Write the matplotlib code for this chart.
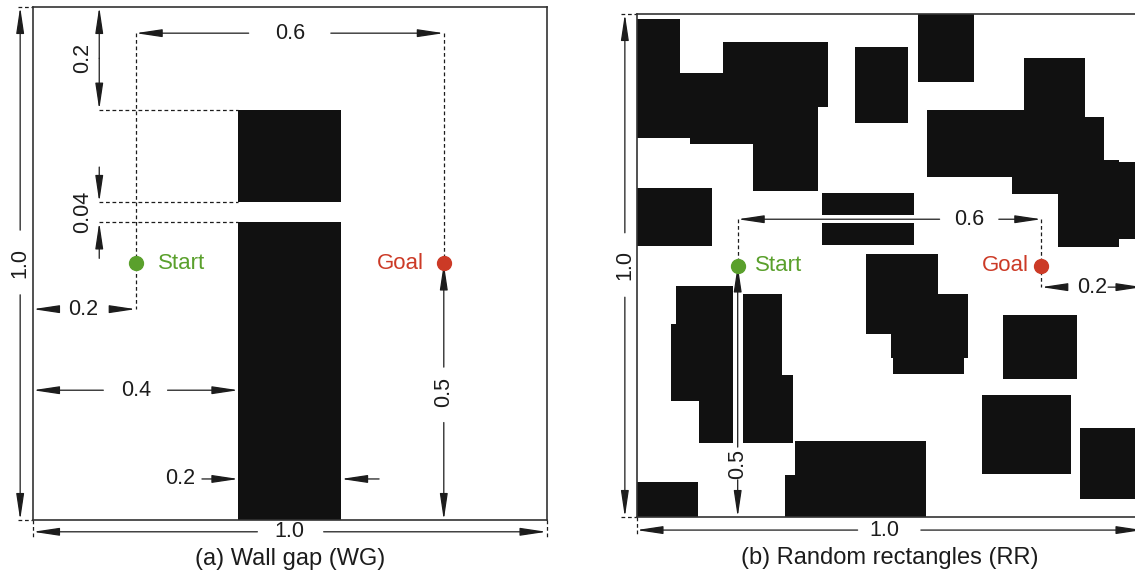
import matplotlib
matplotlib.use("Agg")
import matplotlib.pyplot as plt
from matplotlib.patches import Rectangle

plt.rcParams['font.family'] = ['Liberation Sans', 'DejaVu Sans']

# ---------------- data ----------------
# Wall gap environment: (x, y, width, height) of the two wall pieces
wall_lower = (0.4, 0.0, 0.2, 0.58)
wall_upper = (0.4, 0.62, 0.2, 0.18)
start_xy = (0.2, 0.5)
goal_xy = (0.8, 0.5)

# Random rectangles environment: (x0, x1, y0, y1)
rr_x0 = [0.000, 0.086, 0.106, 0.171, 0.230, 0.432, 0.556, 0.574, 0.766, 0.742,
         0.876, 0.833, 0.924, 0.000, 0.366, 0.366, 0.453, 0.503, 0.507, 0.078,
         0.068, 0.124, 0.210, 0.210, 0.000, 0.313, 0.293, 0.724, 0.682, 0.876]
rr_x1 = [0.086, 0.230, 0.230, 0.378, 0.359, 0.536, 0.667, 0.778, 0.886, 0.837,
         0.924, 0.954, 1.000, 0.149, 0.548, 0.548, 0.596, 0.655, 0.647, 0.191,
         0.125, 0.191, 0.288, 0.309, 0.122, 0.572, 0.323, 0.870, 0.859, 1.000]
rr_y0 = [0.753, 0.753, 0.742, 0.815, 0.648, 0.783, 0.865, 0.676, 0.642, 0.642,
         0.630, 0.537, 0.553, 0.539, 0.600, 0.541, 0.364, 0.316, 0.284, 0.231,
         0.231, 0.147, 0.147, 0.147, 0.000, 0.000, 0.000, 0.274, 0.085, 0.036]
rr_y1 = [0.990, 0.883, 0.829, 0.944, 0.829, 0.934, 1.000, 0.809, 0.913, 0.730,
         0.795, 0.710, 0.706, 0.654, 0.644, 0.584, 0.523, 0.443, 0.352, 0.459,
         0.384, 0.459, 0.443, 0.282, 0.070, 0.151, 0.083, 0.402, 0.243, 0.177]

captions = ["(a) Wall gap (WG)", "(b) Random rectangles (RR)"]

# ---------------- style ----------------
INK = '#1c1c1c'
BLOCK = '#111111'
GREEN = '#5aa02c'
RED = '#cc3a26'
FS = 15.5
FS_CAP = 17

W, H = 1135, 577
fig = plt.figure(figsize=(W / 100, H / 100), dpi=100)


def px_axes(x0, y0, x1, y1):
    return fig.add_axes([x0 / W, 1 - y1 / H, (x1 - x0) / W, (y1 - y0) / H])


axA = px_axes(33, 7, 546.5, 520)
axB = px_axes(636.5, 14, 1142.5, 517)

for ax in (axA, axB):
    ax.set_xlim(0, 1)
    ax.set_ylim(0, 1)
    ax.set_xticks([])
    ax.set_yticks([])
    for s in ax.spines.values():
        s.set_color('#333333')
        s.set_linewidth(1.2)
        s.set_zorder(5)


def arrow(ax, tail, head):
    ax.annotate('', xy=head, xytext=tail, xycoords='data', textcoords='data',
                annotation_clip=False,
                arrowprops=dict(arrowstyle='-|>,head_length=0.8,head_width=0.12',
                                mutation_scale=20, color=INK, lw=0.9,
                                shrinkA=0, shrinkB=0))


def dashed(ax, xs, ys):
    ax.plot(xs, ys, color=INK, lw=0.9, ls=(0, (3, 2.2)), clip_on=False, zorder=3)


def label(ax, x, y, s, rot=0, **kw):
    ax.text(x, y, s, fontsize=FS, color=INK, ha='center', va='center',
            rotation=rot, rotation_mode='anchor', clip_on=False, **kw)


def endpoints(ax, sxy, gxy, tx_start, tx_goal):
    ax.plot(*sxy, 'o', color=GREEN, ms=10, zorder=6, clip_on=False)
    ax.plot(*gxy, 'o', color=RED, ms=10, zorder=6, clip_on=False)
    ax.text(tx_start, sxy[1], 'Start', color=GREEN, fontsize=FS + 0.5,
            ha='left', va='center')
    ax.text(tx_goal, gxy[1], 'Goal', color=RED, fontsize=FS + 0.5,
            ha='right', va='center')


# ---------------- (a) wall gap ----------------
ax = axA
for (x, y, w, h) in (wall_lower, wall_upper):
    ax.add_patch(Rectangle((x, y), w, h, facecolor=BLOCK, edgecolor='none', zorder=2))

wx0 = wall_lower[0]
wx1 = wall_lower[0] + wall_lower[2]
gap_lo = wall_lower[1] + wall_lower[3]
gap_hi = wall_upper[1]
wall_top = wall_upper[1] + wall_upper[3]
sx, sy = start_xy
gx, gy = goal_xy

# 0.6 between start and goal
ya = 0.949
arrow(ax, (0.42, ya), (sx, ya))
arrow(ax, (0.58, ya), (gx, ya))
label(ax, (sx + gx) / 2, ya, f"{gx - sx:.1f}")
dashed(ax, [sx, sx], [ya, 0.411])
dashed(ax, [gx, gx], [ya, gy])

# 0.2 from top to wall
xv = 0.129
arrow(ax, (xv, 0.9), (xv, 1.0))
arrow(ax, (xv, 0.9), (xv, wall_top))
label(ax, 0.096, (1 + wall_top) / 2, f"{1 - wall_top:.1f}", rot=90)

# guide lines of the wall
for yy in (wall_top, gap_hi, gap_lo):
    dashed(ax, [xv, wx0], [yy, yy])

# 0.04 gap
arrow(ax, (xv, 0.688), (xv, gap_hi))
arrow(ax, (xv, 0.51), (xv, gap_lo))
label(ax, 0.096, (gap_lo + gap_hi) / 2, f"{gap_hi - gap_lo:.2f}", rot=90)

# 0.2 from left border to start
yb = 0.411
arrow(ax, (0.047, yb), (0.0, yb))
arrow(ax, (0.152, yb), (sx, yb))
label(ax, 0.098, yb, f"{sx:.1f}")

# 0.4 from left border to wall
yc = 0.253
arrow(ax, (0.137, yc), (0.0, yc))
arrow(ax, (0.262, yc), (wx0, yc))
label(ax, 0.2, yc, f"{wx0:.1f}")

# 0.2 wall thickness
yd = 0.08
arrow(ax, (0.329, yd), (wx0, yd))
arrow(ax, (0.674, yd), (wx1, yd))
label(ax, 0.286, yd, f"{wx1 - wx0:.1f}")

# 0.5 goal height
arrow(ax, (gx, 0.298), (gx, gy))
arrow(ax, (gx, 0.19), (gx, 0.0))
label(ax, gx, 0.25, f"{gy:.1f}", rot=90)

endpoints(ax, start_xy, goal_xy, 0.244, 0.762)

# overall size
xl = -0.025
arrow(ax, (xl, 0.565), (xl, 1.0))
arrow(ax, (xl, 0.439), (xl, 0.0))
label(ax, xl, 0.5, "1.0", rot=90)
dashed(ax, [-0.03, 0], [1, 1])
dashed(ax, [-0.03, 0], [0, 0])
yl = -0.023
arrow(ax, (0.437, yl), (0.0, yl))
arrow(ax, (0.566, yl), (1.0, yl))
label(ax, 0.5, yl, "1.0")
dashed(ax, [0, 0], [0, -0.033])
dashed(ax, [1, 1], [0, -0.033])
ax.text(0.5, -0.076, captions[0], fontsize=FS_CAP, color=INK, ha='center',
        va='center', clip_on=False)

# ---------------- (b) random rectangles ----------------
ax = axB
for x0, x1, y0, y1 in zip(rr_x0, rr_x1, rr_y0, rr_y1):
    ax.add_patch(Rectangle((x0, y0), x1 - x0, y1 - y0, facecolor=BLOCK,
                           edgecolor='none', zorder=2))

ya = 0.592
arrow(ax, (0.599, ya), (sx, ya))
arrow(ax, (0.716, ya), (gx, ya))
label(ax, 0.658, ya, f"{gx - sx:.1f}")
dashed(ax, [sx, sx], [ya, sy])
dashed(ax, [gx, gx], [ya, 0.457])

yb = 0.457
arrow(ax, (0.851, yb), (gx, yb))
arrow(ax, (0.932, yb), (1.0, yb))
label(ax, 0.901, yb, f"{1 - gx:.1f}")

arrow(ax, (sx, 0.139), (sx, sy))
arrow(ax, (sx, 0.074), (sx, 0.0))
label(ax, sx, 0.105, f"{sy:.1f}", rot=90)

endpoints(ax, start_xy, goal_xy, 0.235, 0.776)

xl = -0.023
arrow(ax, (xl, 0.565), (xl, 1.0))
arrow(ax, (xl, 0.437), (xl, 0.0))
label(ax, xl, 0.5, "1.0", rot=90)
dashed(ax, [-0.03, 0], [1, 1])
dashed(ax, [-0.03, 0], [0, 0])
yl = -0.026
arrow(ax, (0.437, yl), (0.0, yl))
arrow(ax, (0.562, yl), (1.0, yl))
label(ax, 0.49, yl, "1.0")
dashed(ax, [0, 0], [0, -0.036])
ax.text(0.5, -0.082, captions[1], fontsize=FS_CAP, color=INK, ha='center',
        va='center', clip_on=False)

fig.savefig("out.png", dpi=100)
